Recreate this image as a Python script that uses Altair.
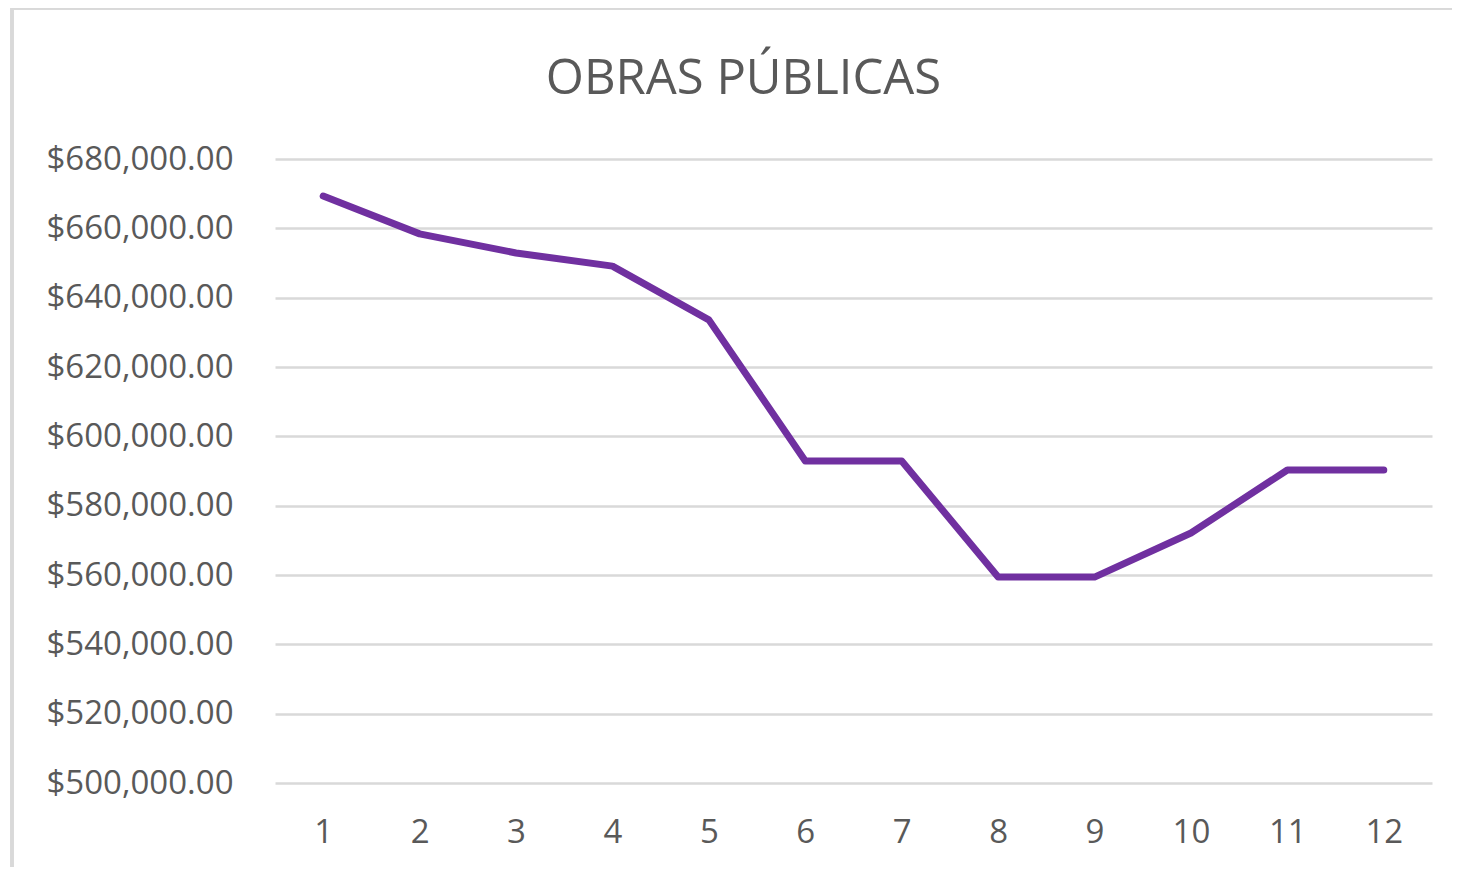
import altair as alt
import pandas as pd

months = [1, 2, 3, 4, 5, 6, 7, 8, 9, 10, 11, 12]
values = [669300, 658400, 652900, 649100, 633600, 592900, 592900,
          559400, 559400, 572100, 590300, 590300]
y_ticks = [500000, 520000, 540000, 560000, 580000, 600000, 620000,
           640000, 660000, 680000]

df = pd.DataFrame({"mes": months, "valor": values})

FONT = "Open Sans"
TXT = "#595959"
GRID = "#d9d9d9"

line = alt.Chart(df).mark_line(
    color="#7030A0", strokeWidth=7, strokeCap="round", strokeJoin="round"
).encode(
    x=alt.X("mes:O", scale=alt.Scale(type="point", padding=0.5),
            axis=alt.Axis(title=None, labelAngle=0, domain=False, ticks=False,
                          labelFont=FONT, labelFontSize=33, labelColor=TXT,
                          labelPadding=33, grid=False)),
    y=alt.Y("valor:Q", scale=alt.Scale(domain=[500000, 680000], nice=False, zero=False),
            axis=alt.Axis(title=None, values=y_ticks, format="$,.2f", domain=False,
                          ticks=False, labelFont=FONT, labelFontSize=33,
                          labelColor=TXT, labelPadding=42, labelLimit=400,
                          gridColor=GRID, gridWidth=2.5, gridOpacity=1)),
)

border_left = alt.Chart(df).mark_rule(color=GRID, strokeWidth=3).encode(
    x=alt.value(-263), y=alt.value(-151), y2=alt.value(740))
border_top = alt.Chart(df).mark_rule(color=GRID, strokeWidth=3).encode(
    x=alt.value(-263), x2=alt.value(1200), y=alt.value(-151))

chart = alt.layer(border_left, border_top, line).properties(
    width=1157, height=624,
    padding={"left": 267, "top": 151, "right": 20, "bottom": 84},
    autosize=alt.AutoSizeParams(type="none"),
    title=alt.TitleParams("OBRAS PÚBLICAS", font=FONT, fontSize=49,
                          fontWeight="normal", color=TXT, anchor="middle",
                          frame="group", offset=0, dx=-110, dy=97),
).configure_view(stroke=None)

chart.save("out.html", embed_options={"renderer": "svg", "actions": False})
